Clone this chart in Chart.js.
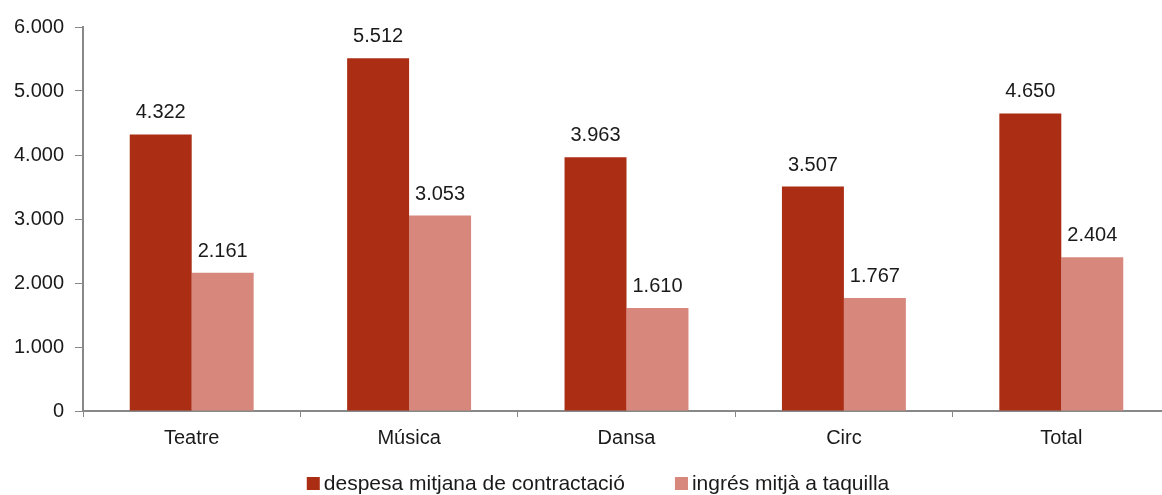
<!DOCTYPE html>
<html>
<head>
<meta charset="utf-8">
<script src="https://cdn.jsdelivr.net/npm/chart.js@4/dist/chart.umd.min.js"></script>
<style>
html,body{margin:0;padding:0;background:#fff;overflow:hidden;}
#wrap{width:1170px;height:495px;position:relative;}
</style>
</head>
<body>
<div id="wrap"><canvas id="c" width="1170" height="495"></canvas></div>
<script>
const categories = ['Teatre', 'Música', 'Dansa', 'Circ', 'Total'];
const despesaValues = [4322, 5512, 3963, 3507, 4650];
const ingresValues = [2161, 3053, 1610, 1767, 2404];
const seriesNames = ['despesa mitjana de contractació', 'ingrés mitjà a taquilla'];
const yTicks = [0, 1000, 2000, 3000, 4000, 5000, 6000];

const fmt = v => String(v).replace(/\B(?=(\d{3})+(?!\d))/g, '.');
const FONT = '"Liberation Sans", Arial, Helvetica, sans-serif';

const valueLabels = {
  id: 'valueLabels',
  afterDatasetsDraw(chart) {
    const ctx = chart.ctx;
    ctx.save();
    ctx.font = '20px ' + FONT;
    ctx.fillStyle = '#1a1a1a';
    ctx.textAlign = 'center';
    ctx.textBaseline = 'alphabetic';
    chart.data.datasets.forEach((ds, i) => {
      chart.getDatasetMeta(i).data.forEach((bar, j) => {
        ctx.fillText(fmt(ds.data[j]), bar.x, bar.y - 16);
      });
    });
    ctx.restore();
  }
};

const bottomLegend = {
  id: 'bottomLegend',
  afterDraw(chart) {
    const ctx = chart.ctx;
    ctx.save();
    ctx.font = '21px ' + FONT;
    ctx.textBaseline = 'alphabetic';
    ctx.textAlign = 'left';
    const box = 13, gapText = 4, gapItem = 50;
    const items = chart.data.datasets.map(ds => ({ text: ds.label, color: ds.backgroundColor, w: ctx.measureText(ds.label).width }));
    const total = items.reduce((s, it) => s + box + gapText + it.w, 0) + gapItem * (items.length - 1);
    let x = 598 - total / 2;
    const baseline = 490;
    items.forEach(it => {
      ctx.fillStyle = it.color;
      ctx.fillRect(x, baseline - 13, box, box);
      x += box + gapText;
      ctx.fillStyle = '#1a1a1a';
      ctx.fillText(it.text, x, baseline);
      x += it.w + gapItem;
    });
    ctx.restore();
  }
};

new Chart(document.getElementById('c'), {
  type: 'bar',
  data: {
    labels: categories,
    datasets: [
      { label: seriesNames[0], data: despesaValues, backgroundColor: '#AA2D14' },
      { label: seriesNames[1], data: ingresValues, backgroundColor: '#D8877C' }
    ]
  },
  options: {
    responsive: false,
    animation: false,
    layout: { padding: { top: 27, right: 0, left: 0, bottom: 36 } },
    datasets: { bar: { categoryPercentage: 0.57, barPercentage: 1 } },
    plugins: {
      legend: { display: false },
      tooltip: { enabled: false }
    },
    scales: {
      x: {
        offset: true,
        grid: { offset: true, drawOnChartArea: false, drawTicks: true, tickLength: 6, color: '#888' },
        border: { color: '#888', width: 2 },
        ticks: { font: { family: FONT, size: 20 }, color: '#1a1a1a', padding: 9 }
      },
      y: {
        min: 0, max: 6000,
        afterBuildTicks: s => { s.ticks = yTicks.map(v => ({ value: v })); },
        afterFit: s => { s.width = 83; },
        grid: { drawOnChartArea: false, drawTicks: true, tickLength: 8, color: '#888' },
        border: { color: '#888', width: 2 },
        ticks: { font: { family: FONT, size: 20 }, color: '#1a1a1a', padding: 11, callback: v => fmt(v) }
      }
    }
  },
  plugins: [valueLabels, bottomLegend]
});
</script>
</body>
</html>
